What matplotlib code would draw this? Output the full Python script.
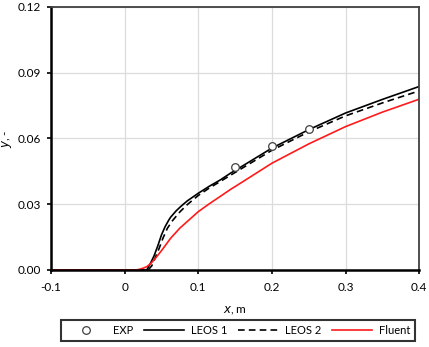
import matplotlib.pyplot as plt

plt.rcParams['font.family'] = ['Lato', 'DejaVu Sans']

# experimental points
x_exp = [0.15, 0.20, 0.25]
y_exp = [0.0472, 0.0566, 0.0642]

# LEOS 1
x_leos1 = [-0.1, 0.0, 0.030, 0.035, 0.040, 0.045, 0.050, 0.055, 0.060, 0.0625,
           0.070, 0.076, 0.085, 0.100, 0.115, 0.130, 0.144, 0.155, 0.200, 0.250,
           0.300, 0.350, 0.400]
y_leos1 = [0.0, 0.0, 0.0, 0.0030, 0.0065, 0.0110, 0.0160, 0.0198, 0.0228, 0.0241,
           0.0270, 0.0289, 0.0315, 0.0350, 0.0382, 0.0411, 0.0442, 0.0464, 0.0556, 0.0640,
           0.0716, 0.0778, 0.0837]

# LEOS 2
x_leos2 = [-0.1, 0.0, 0.032, 0.037, 0.042, 0.047, 0.052, 0.058, 0.065, 0.075,
           0.085, 0.100, 0.115, 0.130, 0.155, 0.200, 0.250, 0.300, 0.350, 0.400]
y_leos2 = [0.0, 0.0, 0.0, 0.0020, 0.0060, 0.0100, 0.0145, 0.0190, 0.0225, 0.0265,
           0.0298, 0.0340, 0.0374, 0.0404, 0.0455, 0.0546, 0.0630, 0.0703, 0.0762, 0.0817]

# Fluent
x_fluent = [-0.1, 0.0, 0.015, 0.020, 0.025, 0.030, 0.035, 0.040, 0.050, 0.0625,
            0.075, 0.088, 0.100, 0.115, 0.130, 0.144, 0.155, 0.200, 0.250, 0.300,
            0.350, 0.400]
y_fluent = [0.0, 0.0, 0.0, 0.0003, 0.0008, 0.0015, 0.0028, 0.0046, 0.0088, 0.0145,
            0.0191, 0.0230, 0.0266, 0.0302, 0.0336, 0.0368, 0.0391, 0.0487, 0.0575, 0.0654,
            0.0720, 0.0779]

x_ticks = [-0.1, 0.0, 0.1, 0.2, 0.3, 0.4]
x_labels = ['-0.1', '0', '0.1', '0.2', '0.3', '0.4']
y_ticks = [0.0, 0.03, 0.06, 0.09, 0.12]
y_labels = ['0.00', '0.03', '0.06', '0.09', '0.12']

fig = plt.figure(figsize=(4.29, 3.47), dpi=100)
ax = fig.add_axes([0.119, 0.222, 0.858, 0.758])

ax.plot(x_exp, y_exp, 'o', mfc='white', mec='#404040', ms=5.5, mew=0.9,
        label='EXP', zorder=5)
ax.plot(x_leos1, y_leos1, '-', color='black', lw=1.2, label='LEOS 1')
ax.plot(x_leos2, y_leos2, '--', color='black', lw=1.2, dashes=(4, 2.5),
        label='LEOS 2')
ax.plot(x_fluent, y_fluent, '-', color='#ff1a1a', lw=1.2, label='Fluent')

ax.set_xlim(-0.1, 0.4)
ax.set_ylim(0.0, 0.12)
ax.set_xticks(x_ticks)
ax.set_xticklabels(x_labels)
ax.set_yticks(y_ticks)
ax.set_yticklabels(y_labels)
ax.tick_params(labelsize=8.5, length=3, width=1.2, color='black')
ax.tick_params(axis='x', pad=6)
ax.tick_params(axis='y', pad=4)
ax.grid(True, color='#dcdcdc', lw=0.9)
ax.set_axisbelow(True)

for side in ['left', 'bottom']:
    ax.spines[side].set_linewidth(1.8)
    ax.spines[side].set_color('black')
for side in ['top', 'right']:
    ax.spines[side].set_linewidth(1.3)
    ax.spines[side].set_color('#404040')

ax.set_xlabel('$\\it{x}$, m', fontsize=8.5, labelpad=8)
ax.set_ylabel('$\\it{y}$, -', fontsize=8.5, labelpad=3)

leg = fig.legend(loc='center', bbox_to_anchor=(0.555, 0.0476), ncol=4,
                 fontsize=8, frameon=True, fancybox=False, handlelength=3.6,
                 columnspacing=1.0, handletextpad=0.6, borderpad=0.45)
leg.get_frame().set_edgecolor('black')
leg.get_frame().set_linewidth(1.5)

fig.savefig('out.png', dpi=100)
